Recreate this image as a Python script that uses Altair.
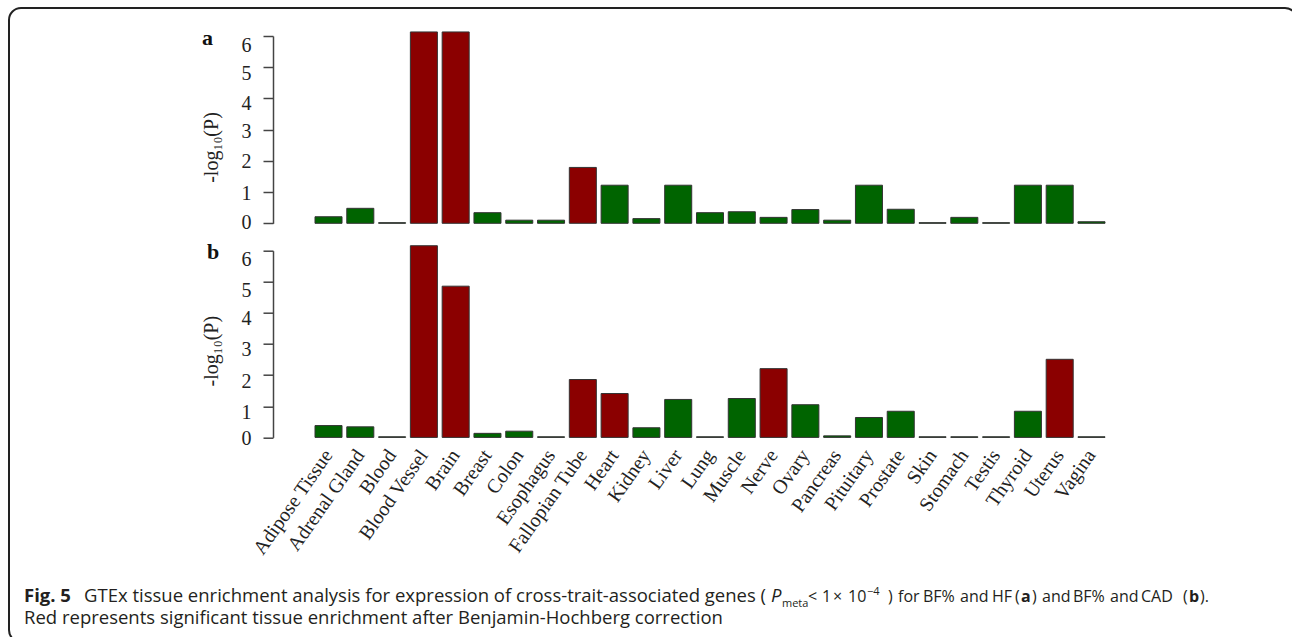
import altair as alt
import pandas as pd

tissues = ["Adipose Tissue", "Adrenal Gland", "Blood", "Blood Vessel", "Brain", "Breast",
           "Colon", "Esophagus", "Fallopian Tube", "Heart", "Kidney", "Liver", "Lung",
           "Muscle", "Nerve", "Ovary", "Pancreas", "Pituitary", "Prostate", "Skin",
           "Stomach", "Testis", "Thyroid", "Uterus", "Vagina"]

vals_a = [0.21, 0.48, 0.02, 6.13, 6.13, 0.34, 0.10, 0.10, 1.79, 1.22, 0.15, 1.22, 0.34,
          0.37, 0.19, 0.44, 0.10, 1.22, 0.45, 0.02, 0.19, 0.02, 1.22, 1.22, 0.05]
vals_b = [0.38, 0.34, 0.02, 6.16, 4.86, 0.13, 0.20, 0.02, 1.86, 1.41, 0.31, 1.22, 0.02,
          1.25, 2.21, 1.05, 0.05, 0.64, 0.84, 0.02, 0.02, 0.02, 0.84, 2.51, 0.02]
sig_a = ["Blood Vessel", "Brain", "Fallopian Tube"]
sig_b = ["Blood Vessel", "Brain", "Fallopian Tube", "Heart", "Nerve", "Uterus"]
y_ticks = [0, 1, 2, 3, 4, 5, 6]

df_a = pd.DataFrame({"tissue": tissues, "value": vals_a,
                     "sig": ["yes" if t in sig_a else "no" for t in tissues]})
df_b = pd.DataFrame({"tissue": tissues, "value": vals_b,
                     "sig": ["yes" if t in sig_b else "no" for t in tissues]})

SERIF = "Liberation Serif"
SANS = "Open Sans"
color_scale = alt.Scale(domain=["yes", "no"], range=["#8B0000", "#006400"])
xscale = alt.Scale(domain=tissues, paddingInner=0.15, paddingOuter=0, range=[42, 832])
yscale = alt.Scale(domain=[0, 6], nice=False, zero=True)


def label_offsets(offs):
    return {"condition": [{"test": f"datum.value == {v}", "value": o}
                          for v, o in zip(y_ticks, offs)], "value": 0}


def yaxis(ty, offs):
    return alt.Axis(values=y_ticks, title="-log₁₀(P)", titleFont=SERIF, titleFontSize=20,
                    titleFontWeight="normal", titleColor="#222", titleAngle=270,
                    titleAlign="center", titleBaseline="middle", titleX=-62, titleY=ty,
                    labelFont=SERIF, labelFontSize=20, labelColor="#222", labelPadding=12,
                    labelOffset=label_offsets(offs),
                    tickSize=10, tickColor="#444", tickWidth=1.5, domainColor="#444",
                    domainWidth=1.5, grid=False)


one = alt.Data(values=[{"k": 1}])


def bars(df, xaxis, ty, offs):
    return alt.Chart(df).mark_bar(stroke="#333", strokeWidth=1).encode(
        x=alt.X("tissue:N", scale=xscale, sort=None, axis=xaxis),
        y=alt.Y("value:Q", scale=yscale, axis=yaxis(ty, offs)),
        color=alt.Color("sig:N", scale=color_scale, legend=None),
    )


xaxis_b = alt.Axis(title=None, labelAngle=-55, labelFont=SERIF, labelFontSize=20,
                   labelColor="#222", domain=False, ticks=False, labelPadding=14)

frame = alt.Chart(one).mark_rect(filled=False, stroke="#222", strokeWidth=2,
                                 cornerRadius=12).encode(
    x=alt.value(9 - 273), x2=alt.value(1297 - 273),
    y=alt.value(8 - 36), y2=alt.value(642 - 36))

lab_a = alt.Chart(one).mark_text(text="a", font=SERIF, fontSize=22, fontWeight="bold",
                                 align="left", baseline="alphabetic", color="#111").encode(
    x=alt.value(-71), y=alt.value(9))
lab_b = alt.Chart(one).mark_text(text="b", font=SERIF, fontSize=22, fontWeight="bold",
                                 align="left", baseline="alphabetic", color="#111").encode(
    x=alt.value(-66), y=alt.value(8))

# caption segments (text, x, baseline y, weight, style, size)
cap = [
    ("Fig. 5", 24, 601, "bold", "normal", 18.5),
    ("GTEx tissue enrichment analysis for expression of cross-trait-associated genes (", 84, 601, "normal", "normal", 18.5),
    ("P", 771, 601, "normal", "italic", 18.5),
    ("meta", 782, 606, "normal", "normal", 11),
    ("<", 808, 601, "normal", "normal", 16),
    ("1", 822, 601, "normal", "normal", 16),
    ("×", 833, 601, "normal", "normal", 16),
    ("10", 848, 601, "normal", "normal", 16),
    ("−4", 867, 594, "normal", "normal", 11),
    (")", 888, 601, "normal", "normal", 16),
    ("for", 898, 601, "normal", "normal", 16),
    ("BF%", 923, 601, "normal", "normal", 16),
    ("and", 960, 601, "normal", "normal", 16),
    ("HF", 992, 601, "normal", "normal", 16),
    ("(", 1015, 601, "normal", "normal", 16),
    ("a", 1021, 601, "bold", "normal", 16),
    (")", 1032, 601, "normal", "normal", 16),
    ("and", 1042, 601, "normal", "normal", 16),
    ("BF%", 1073, 601, "normal", "normal", 16),
    ("and", 1110, 601, "normal", "normal", 16),
    ("CAD", 1141, 601, "normal", "normal", 16),
    ("(", 1183, 601, "normal", "normal", 16),
    ("b", 1189, 601, "bold", "normal", 16),
    (").", 1200, 601, "normal", "normal", 16),
    ("Red represents significant tissue enrichment after Benjamin-Hochberg correction", 24, 623, "normal", "normal", 18.5),
]
cap_layers = []
for t, cx, cy, w, st, sz in cap:
    cap_layers.append(alt.Chart(one).mark_text(
        text=t, font=SANS, fontSize=sz, fontWeight=w, fontStyle=st, align="left",
        baseline="alphabetic", color="#231f20").encode(
        x=alt.value(cx - 273), y=alt.value(cy - 250)))

panel_a = alt.layer(frame, bars(df_a, None, 111, [-1, 1, 1, 2, 5, 6, 9]), lab_a).properties(
    width=874, height=187.3)
panel_b = alt.layer(bars(df_b, xaxis_b, 100, [1, 6, 6, 5, 6, 9, 9]), lab_b, *cap_layers).properties(
    width=874, height=186.7)

chart = alt.vconcat(panel_a, panel_b, spacing=26.7, bounds="flush").properties(
    autosize=alt.AutoSizeParams(type="none"),
    padding={"left": 273, "top": 36, "right": 145, "bottom": 601},
    background="white",
).configure_view(stroke=None)

chart.save("out.html", embed_options={"renderer": "svg", "actions": False})
